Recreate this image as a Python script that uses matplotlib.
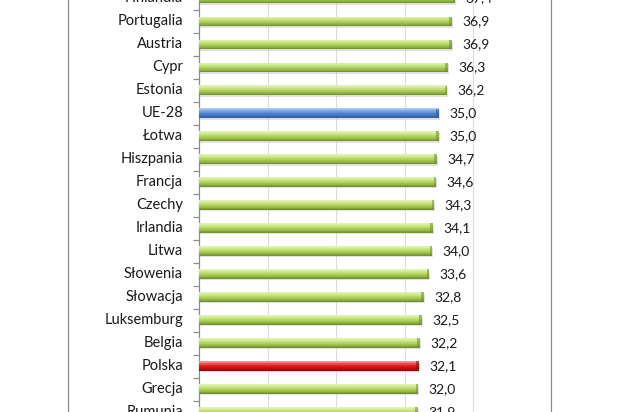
import numpy as np
import matplotlib
matplotlib.use("Agg")
import matplotlib.pyplot as plt
from matplotlib.colors import to_rgb
from matplotlib.lines import Line2D

# --- data (EU countries, values in %) ---
countries = ["Finlandia", "Portugalia", "Austria", "Cypr", "Estonia", "UE-28",
             "Łotwa", "Hiszpania", "Francja", "Czechy", "Irlandia", "Litwa",
             "Słowenia", "Słowacja", "Luksemburg", "Belgia", "Polska", "Grecja",
             "Rumunia"]
values = [37.4, 36.9, 36.9, 36.3, 36.2, 35.0, 35.0, 34.7, 34.6, 34.3, 34.1,
          34.0, 33.6, 32.8, 32.5, 32.2, 32.1, 32.0, 31.9]
highlight = {"UE-28": "blue", "Polska": "red"}

# gradient stops, top of the bar -> bottom of the bar
palettes = {
    "green": ["#e6f5b8", "#cde88a", "#b4d45e", "#97b948", "#6f8d30"],
    "blue": ["#b3d0f2", "#7eaae2", "#4f86cc", "#3f72b6", "#2f5a94"],
    "red": ["#f5a0a0", "#ee5050", "#e01c1c", "#c01010", "#8e0a0a"],
}

plt.rcParams["font.family"] = ["Lato", "DejaVu Sans"]

W, H = 618, 412
fig = plt.figure(figsize=(W / 100, H / 100), dpi=100)
fig.patch.set_facecolor("white")

ax_left, ax_right = 199, 551
ax = fig.add_axes([ax_left / W, 0, (ax_right - ax_left) / W, 1])
px_per_unit = 6.85

y = np.arange(len(countries))
vals = np.array(values)
bar_h = 0.41


def blend(stops, t):
    t = t * (len(stops) - 1)
    i = min(int(t), len(stops) - 2)
    f = t - i
    a, b = np.array(to_rgb(stops[i])), np.array(to_rgb(stops[i + 1]))
    return tuple(a + (b - a) * f)


# soft shadow under the bars
ax.barh(y + 0.07, vals + 0.15, height=bar_h, color="#c9c9c9", alpha=0.55,
        zorder=2, linewidth=0)

# bars drawn as stacked strips to mimic the glossy cylinder look
n_strips = 14
for k in range(n_strips):
    t = (k + 0.5) / n_strips
    off = -bar_h / 2 + t * bar_h
    cols = [blend(palettes[highlight.get(c, "green")], t) for c in countries]
    ax.barh(y + off, vals, height=bar_h / n_strips + 0.003, color=cols,
            linewidth=0, zorder=3)

# darker end cap
cap_cols = [palettes[highlight.get(c, "green")][-1] for c in countries]
ax.barh(y, np.full(len(vals), 0.35), left=vals - 0.35, height=bar_h,
        color=cap_cols, alpha=0.55, linewidth=0, zorder=4)

# value labels and category labels (annotations so the half-cut first row still shows)
for yi, v, name in zip(y, vals, countries):
    ax.annotate(f"{v:.1f}".replace(".", ","), (v, yi), xytext=(7.5, 0),
                textcoords="offset points", va="center", ha="left",
                fontsize=10, color="#1a1a1a", annotation_clip=False)
    ax.annotate(name, (0, yi), xytext=(-11.5, 0), textcoords="offset points",
                va="center", ha="right", fontsize=10.5, color="#1a1a1a",
                annotation_clip=False)

# axes styling
for side in ["top", "bottom"]:
    ax.spines[side].set_visible(False)
ax.spines["left"].set_color("#8c8c8c")
ax.spines["right"].set_color("#8c8c8c")
ax.spines["left"].set_linewidth(0.9)
ax.spines["right"].set_linewidth(0.9)

ax.set_xticks([10, 20, 30, 40])
ax.tick_params(axis="x", length=0, labelbottom=False)
ax.grid(axis="x", color="#dcdcdc", linewidth=0.8, zorder=0)
ax.set_axisbelow(True)

ax.set_yticks(np.arange(-0.5, len(countries) + 0.5, 1.0))
ax.set_yticklabels([])
ax.tick_params(axis="y", which="major", length=4.3, width=0.9,
               color="#8c8c8c", direction="out")

# limits last, so the tick setters cannot widen them
ax.set_xlim(0, (ax_right - ax_left) / px_per_unit)
ax.set_ylim(18.0, 0.074)

# left chart border
fig.add_artist(Line2D([68 / W, 68 / W], [0, 1], color="#8c8c8c",
                      linewidth=0.9, transform=fig.transFigure))

fig.savefig("out.png", dpi=100, facecolor="white")
